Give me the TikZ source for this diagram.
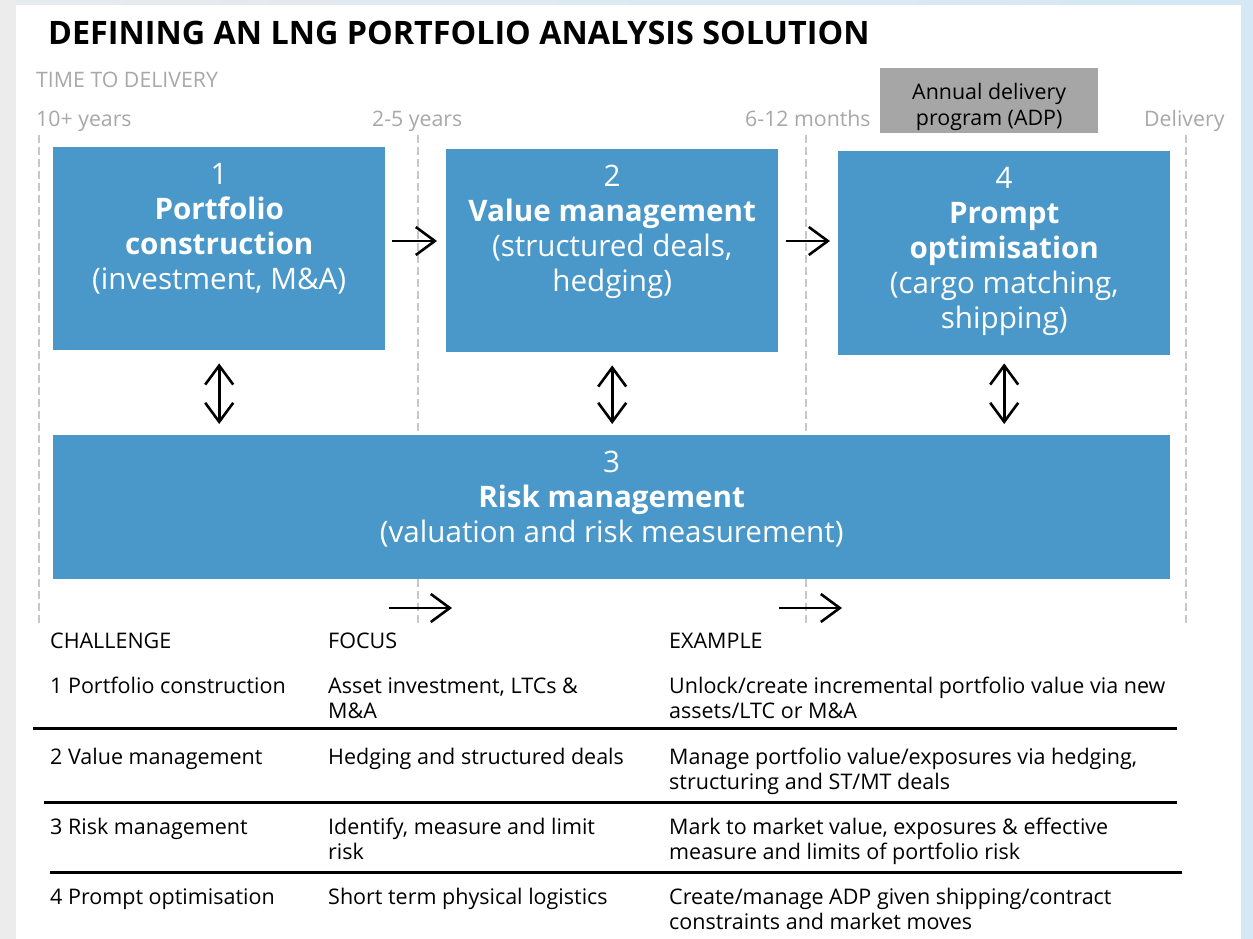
\documentclass[tikz,border=0pt]{standalone}
\usepackage{fontspec}
\IfFontExistsTF{Noto Sans Bold}{%
  \setmainfont{Noto Sans}[BoldFont={Noto Sans Bold}]}{%
  \IfFontExistsTF{NotoSans-Bold.ttf}{%
    \setmainfont{Noto Sans}[BoldFont={NotoSans-Bold.ttf}]}{%
    \IfFontExistsTF{Open Sans Bold}{%
      \setmainfont{Open Sans}[BoldFont={Open Sans Bold}]}{%
      \setmainfont{Noto Sans}}}}
\usetikzlibrary{arrows.meta}
\definecolor{boxblue}{HTML}{4A98C9}
\definecolor{adpgray}{HTML}{A6A6A6}
\definecolor{labgray}{HTML}{A8A8A8}
\definecolor{dashgray}{HTML}{C8C8C8}
\definecolor{sideblue}{HTML}{D5E8F6}
\definecolor{sidegray}{HTML}{ECECEC}
\definecolor{topgray}{HTML}{E6EBEE}
\tikzset{
  bluebox/.style={fill=boxblue, draw=none, inner sep=0pt, anchor=north west},
  boxtext/.style={text=white, align=center, inner sep=0pt, anchor=north, font=\fontsize{29.6}{35}\selectfont},
  timelab/.style={text=labgray, anchor=base west, inner sep=0pt, font=\fontsize{21.3}{25}\selectfont},
  timeline/.style={draw=dashgray, line width=2pt, dash pattern=on 8pt off 4pt},
  arr/.style={line width=2.6pt, -{Straight Barb[length=19pt,width=28pt]}},
  darr/.style={line width=2.6pt, {Straight Barb[length=19pt,width=28pt]}-{Straight Barb[length=19pt,width=28pt]}},
  cell/.style={anchor=base west, inner sep=0pt, align=left, font=\fontsize{21.5}{25}\selectfont},
  rule/.style={line width=3pt, draw=black},
}
\begin{document}
\begin{tikzpicture}[x=1pt,y=-1pt]
\useasboundingbox (0,0) rectangle (1253,939);
% background
\fill[sideblue] (0,0) rectangle (1253,939);
\fill[sidegray] (0,0) rectangle (16,939);
\shade[left color=topgray, right color=sideblue] (16,0) rectangle (1241,5);
\fill[white] (16,5) rectangle (1241,939);

% title and time labels
\node[anchor=base west, inner sep=0pt, font=\fontsize{32.3}{36}\selectfont\bfseries] (title) at (48,45) {DEFINING AN LNG PORTFOLIO ANALYSIS SOLUTION};
\node[timelab] (ttd) at (36,88) {TIME TO DELIVERY};
\node[timelab] (t10) at (36,127) {10+ years};
\node[timelab] (t25) at (372,127) {2-5 years};
\node[timelab] (t612) at (745,127) {6-12 months};
\node[timelab] (tdel) at (1144,127) {Delivery};

% ADP box
\node[fill=adpgray, minimum width=218pt, minimum height=65pt, inner sep=0pt, anchor=north west] (adp) at (880,68) {};
\node[align=center, inner sep=0pt, font=\fontsize{21.4}{26}\selectfont] (adptext) at ([yshift=-6pt]adp.center) {Annual delivery\\program (ADP)};

% dashed time lines
\coordinate (d1t) at (39,135); \coordinate (d1b) at (39,623);
\coordinate (d2t) at (418,135); \coordinate (d2b) at (418,623);
\coordinate (d3t) at (806,135); \coordinate (d3b) at (806,623);
\coordinate (d4t) at (1186,135); \coordinate (d4b) at (1186,623);
\draw[timeline] (d1t) -- (d1b);
\draw[timeline] (d2t) -- (d2b);
\draw[timeline] (d3t) -- (d3b);
\draw[timeline] (d4t) -- (d4b);

% blue boxes
\node[bluebox, minimum width=332pt, minimum height=203pt] (b1) at (53,147) {};
\node[bluebox, minimum width=332pt, minimum height=203pt] (b2) at (446,149) {};
\node[bluebox, minimum width=332pt, minimum height=204pt] (b4) at (838,151) {};
\node[bluebox, minimum width=1117pt, minimum height=144pt] (b3) at (53,435) {};

\node[boxtext] (b1t) at ([yshift=-16pt]b1.north) {1\\\textbf{Portfolio}\\\textbf{construction}\\(investment, M\&A)};
\node[boxtext] (b2t) at ([yshift=-16pt]b2.north) {2\\\textbf{Value management}\\(structured deals,\\hedging)};
\node[boxtext] (b4t) at ([yshift=-16pt]b4.north) {4\\\textbf{Prompt}\\\textbf{optimisation}\\(cargo matching,\\shipping)};
\node[boxtext] (b3t) at ([yshift=-16pt]b3.north) {3\\\textbf{Risk management}\\(valuation and risk measurement)};

% arrows between boxes
\coordinate (a12s) at (392,241); \coordinate (a12e) at (437,241);
\coordinate (a24s) at (786,241); \coordinate (a24e) at (830,241);
\draw[arr] (a12s) -- (a12e);
\draw[arr] (a24s) -- (a24e);
\draw[darr, shorten <=13pt, shorten >=11pt] (b1.south) -- (b1.south |- b3.north);
\draw[darr, shorten <=13pt, shorten >=11pt] (b2.south) -- (b2.south |- b3.north);
\draw[darr, shorten <=8pt, shorten >=11pt] (b4.south) -- (b4.south |- b3.north);

% bottom arrows
\coordinate (ba1s) at (389,608); \coordinate (ba1e) at (452,608);
\coordinate (ba2s) at (779,608); \coordinate (ba2e) at (842,608);
\draw[arr] (ba1s) -- (ba1e);
\draw[arr] (ba2s) -- (ba2e);

% table (multi-line cells are placed at the baseline of their last line)
\node[cell] (h1) at (50,648) {CHALLENGE};
\node[cell] (h2) at (328,648) {FOCUS};
\node[cell] (h3) at (669,648) {EXAMPLE};

\node[cell] (r1c1) at (50,693) {1 Portfolio construction};
\node[cell] (r1c2) at (328,718) {Asset investment, LTCs \&\\M\&A};
\node[cell] (r1c3) at (669,718) {Unlock/create incremental portfolio value via new\\assets/LTC or M\&A};
\coordinate (l1a) at (33,728); \coordinate (l1b) at (1177,728);
\draw[rule] (l1a) -- (l1b);

\node[cell] (r2c1) at (50,764) {2 Value management};
\node[cell] (r2c2) at (328,764) {Hedging and structured deals};
\node[cell] (r2c3) at (669,789) {Manage portfolio value/exposures via hedging,\\structuring and ST/MT deals};
\coordinate (l2a) at (44,802); \coordinate (l2b) at (1177,802);
\draw[rule] (l2a) -- (l2b);

\node[cell] (r3c1) at (50,834) {3 Risk management};
\node[cell] (r3c2) at (328,859) {Identify, measure and limit\\risk};
\node[cell] (r3c3) at (669,859) {Mark to market value, exposures \& effective\\measure and limits of portfolio risk};
\coordinate (l3a) at (50,872); \coordinate (l3b) at (1182,872);
\draw[rule] (l3a) -- (l3b);

\node[cell] (r4c1) at (50,904) {4 Prompt optimisation};
\node[cell] (r4c2) at (328,904) {Short term physical logistics};
\node[cell] (r4c3) at (669,929) {Create/manage ADP given shipping/contract\\constraints and market moves};
\end{tikzpicture}
\end{document}
